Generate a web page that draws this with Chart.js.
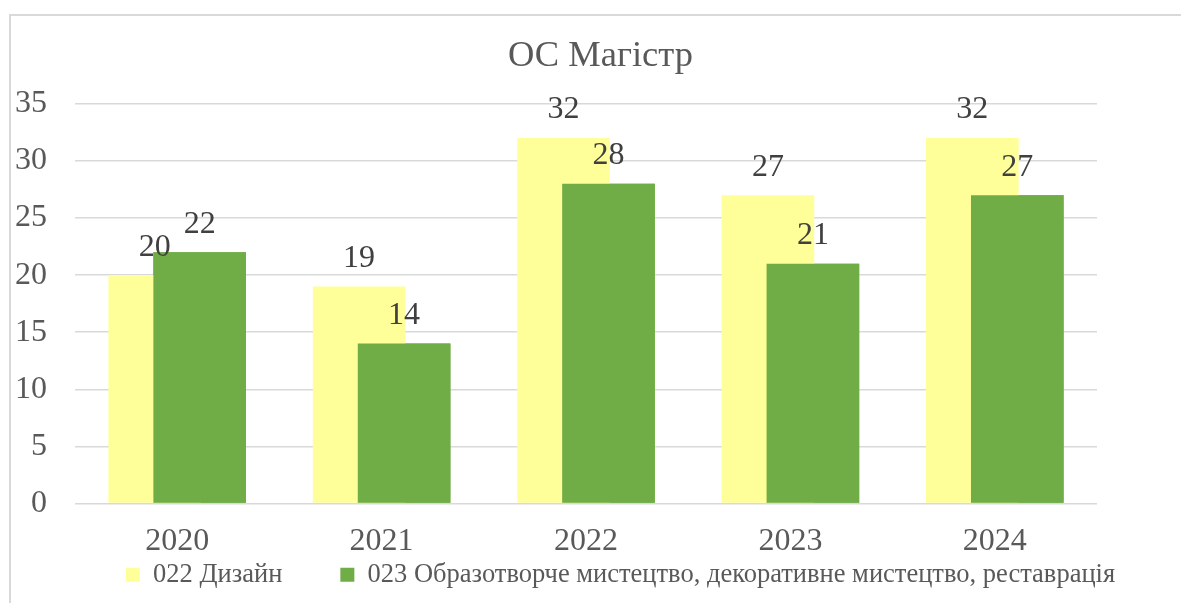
<html>
<head>
<meta charset="utf-8">
<script src="https://cdn.jsdelivr.net/npm/chart.js"></script>
<style>
  body { margin: 0; background: #fff; overflow: hidden; width: 1181px; height: 603px; }
  #frame { position: absolute; left: 9px; top: 14px; width: 1300px; height: 700px; border: 2px solid #d9d9d9; }
  #wrap { position: absolute; left: 0; top: 0; }
</style>
</head>
<body>
<div id="frame"></div>
<div id="wrap"><canvas id="myChart" width="1181" height="603"></canvas></div>

<script>
// data
const years = ['2020', '2021', '2022', '2023', '2024'];
const design = [20, 19, 32, 27, 32];
const fineArts = [22, 14, 28, 21, 27];
const seriesNames = ['022 Дизайн', '023 Образотворче мистецтво, декоративне мистецтво, реставрація'];
const yTicks = [0, 5, 10, 15, 20, 25, 30, 35];

const serif = "'Liberation Serif', 'Times New Roman', serif";

// value labels above each bar
const valueLabels = {
  id: 'valueLabels',
  afterDatasetsDraw(chart) {
    const ctx = chart.ctx;
    ctx.save();
    ctx.font = '32px ' + serif;
    ctx.fillStyle = '#404040';
    ctx.textAlign = 'center';
    ctx.textBaseline = 'middle';
    chart.data.datasets.forEach((ds, i) => {
      chart.getDatasetMeta(i).data.forEach((bar, j) => {
        ctx.fillText(ds.data[j], bar.x, bar.y - 28);
      });
    });
    ctx.restore();
  }
};

// green bars sit in front of the yellow ones
const greenOnTop = {
  id: 'greenOnTop',
  afterDatasetDraw(chart, args) {
    if (args.index === 0) chart.getDatasetMeta(1).controller.draw();
  }
};

// nudge title and legend to where the original put them
const shiftBlocks = {
  id: 'shiftBlocks',
  afterLayout(chart) {
    if (chart.titleBlock) { chart.titleBlock.left += 52; chart.titleBlock.right += 52; }
    if (chart.legend) { chart.legend.left += 72; chart.legend.right += 72; }
  }
};

const config = {
  type: 'bar',
  data: {
    labels: years,
    datasets: [{
      label: seriesNames[0],
      data: design,
      backgroundColor: '#ffff99',
      categoryPercentage: 0.44,
      barPercentage: 2.06
    }, {
      label: seriesNames[1],
      data: fineArts,
      backgroundColor: '#70ad47',
      categoryPercentage: 0.44,
      barPercentage: 2.06
    }]
  },
  options: {
    responsive: false,
    animation: false,
    devicePixelRatio: 1,
    layout: { padding: { left: 0, right: 84, top: 0, bottom: 5 } },
    plugins: {
      title: {
        display: true,
        text: 'ОС Магістр',
        color: '#595959',
        font: { family: serif, size: 36.5, weight: 'normal' },
        padding: { top: 35, bottom: 25 }
      },
      legend: {
        position: 'bottom',
        labels: {
          color: '#595959',
          font: { family: serif, size: 26.5 },
          boxWidth: 14,
          boxHeight: 14,
          padding: 5,
          generateLabels(chart) {
            const items = Chart.defaults.plugins.legend.labels.generateLabels(chart);
            items[0].text = items[0].text + '\u2003\u2003';
            return items;
          }
        }
      },
      tooltip: { enabled: false }
    },
    scales: {
      x: {
        afterFit(scale) { scale.height = 53; },
        grid: { display: false },
        border: { display: false },
        ticks: { color: '#595959', font: { family: serif, size: 32 }, padding: 11 }
      },
      y: {
        min: 0,
        max: 35,
        afterFit(scale) { scale.width = 75; },
        afterBuildTicks(scale) { scale.ticks = yTicks.map(v => ({ value: v })); },
        grid: { color: '#d9d9d9', lineWidth: 1.5, drawTicks: false },
        border: { display: false },
        ticks: { color: '#595959', font: { family: serif, size: 32 }, padding: 28 }
      }
    }
  },
  plugins: [valueLabels, greenOnTop, shiftBlocks]
};

new Chart(document.getElementById('myChart'), config);
</script>
</body>
</html>
